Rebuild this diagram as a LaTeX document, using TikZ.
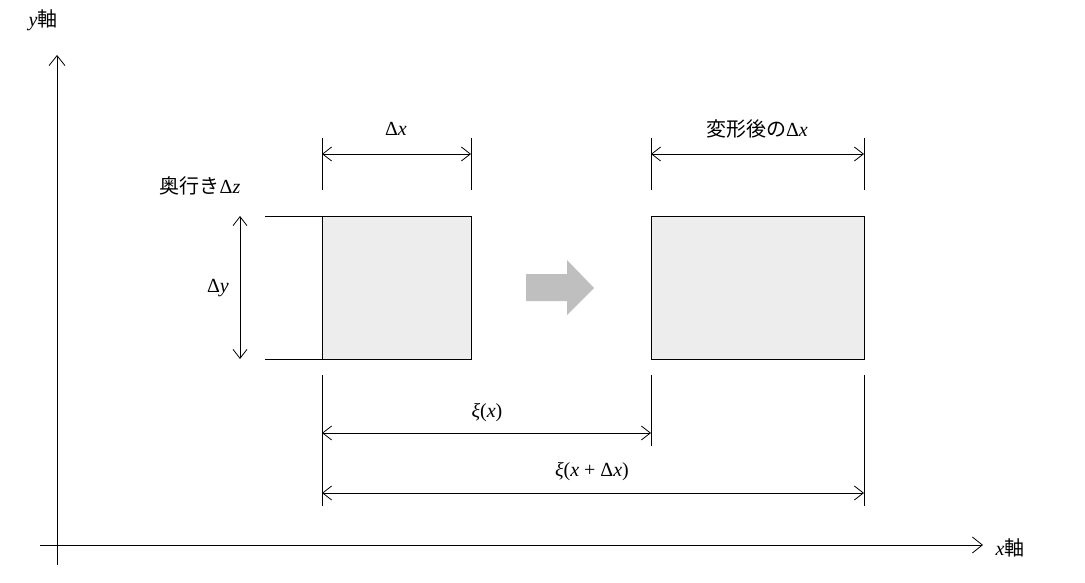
\documentclass[tikz,border=0pt]{standalone}
\usepackage{fontspec}
\newfontfamily\cjk{Noto Sans CJK JP}
\newfontfamily\mth{Liberation Serif}
\newcommand{\vi}[1]{{\mth\itshape #1}}
\newcommand{\up}[1]{{\mth #1}}
\usetikzlibrary{arrows.meta}
\begin{document}
\begin{tikzpicture}[x=1pt,y=-1pt,
  dim/.style={{Straight Barb[length=9pt,width=14pt]}-{Straight Barb[length=9pt,width=14pt]},line width=0.8pt},
  ax/.style={-{Straight Barb[length=10pt,width=16pt]},line width=0.8pt},
  tick/.style={line width=0.8pt},
  box/.style={draw,line width=1.2pt,fill=black!7,minimum width=149pt,minimum height=143pt,inner sep=0pt},
  lab/.style={font=\fontsize{20}{24}\selectfont,inner sep=0pt}]
\useasboundingbox (0,0) rectangle (1085,583);
% axes
\coordinate (yb) at (57,565); \coordinate (yt) at (57,55);
\coordinate (xl) at (40,545); \coordinate (xr) at (983,545);
\draw[ax] (yb) -- (yt);
\draw[ax] (xl) -- (xr);
\node[lab] (ylab) at (43,20) {\vi{y}\cjk 軸};
\node[lab] (xlab) at (1010,548) {\vi{x}\cjk 軸};
% boxes
\node[box,anchor=north west] (b1) at (322,216) {};
\node[box,anchor=north west,minimum width=213pt] (b2) at (651,216) {};
\fill[black!25] (526,274) -- (567,274) -- (567,260) -- (594,288) -- (567,315) -- (567,301) -- (526,301) -- cycle;
% top dims
\coordinate (t1a) at (322,138); \coordinate (t1b) at (322,190);
\coordinate (t2a) at (471,138); \coordinate (t2b) at (471,190);
\coordinate (t3a) at (651,138); \coordinate (t3b) at (651,190);
\coordinate (t4a) at (864,138); \coordinate (t4b) at (864,190);
\draw[tick] (t1a)--(t1b) (t2a)--(t2b) (t3a)--(t3b) (t4a)--(t4b);
\coordinate (d1a) at (322,154); \coordinate (d1b) at (471,154);
\coordinate (d2a) at (651,154); \coordinate (d2b) at (864,154);
\draw[dim] (d1a)--(d1b);
\draw[dim] (d2a)--(d2b);
\node[lab] (ldx) at (396,129) {\up{Δ}\vi{x}};
\node[lab] (ldx2) at (757,129) {\cjk 変形後の\up{Δ}\vi{x}};
\node[lab] (ldz) at (200,186) {\cjk 奥行き\up{Δ}\vi{z}};
% dy
\coordinate (h1a) at (265,216); \coordinate (h1b) at (322,216);
\coordinate (h2a) at (265,359); \coordinate (h2b) at (322,359);
\draw[tick] (h1a)--(h1b) (h2a)--(h2b);
\coordinate (dya) at (240,216); \coordinate (dyb) at (240,359);
\draw[dim] (dya)--(dyb);
\node[lab] (ldy) at (218,288) {\up{Δ}\vi{y}};
% lower dims
\coordinate (l1a) at (322,375); \coordinate (l1b) at (322,506);
\coordinate (l2a) at (651,375); \coordinate (l2b) at (651,446);
\coordinate (l3a) at (864,375); \coordinate (l3b) at (864,506);
\draw[tick] (l1a)--(l1b) (l2a)--(l2b) (l3a)--(l3b);
\coordinate (xa) at (322,433); \coordinate (xb) at (651,433);
\coordinate (xc) at (322,493); \coordinate (xd) at (864,493);
\draw[dim] (xa)--(xb);
\draw[dim] (xc)--(xd);
\node[lab] (lxi) at (487,413) {\vi{ξ}\up{(}\vi{x}\up{)}};
\node[lab] (lxi2) at (592,472) {\vi{ξ}\up{(}\vi{x}\up{ + Δ}\vi{x}\up{)}};
\end{tikzpicture}
\end{document}
